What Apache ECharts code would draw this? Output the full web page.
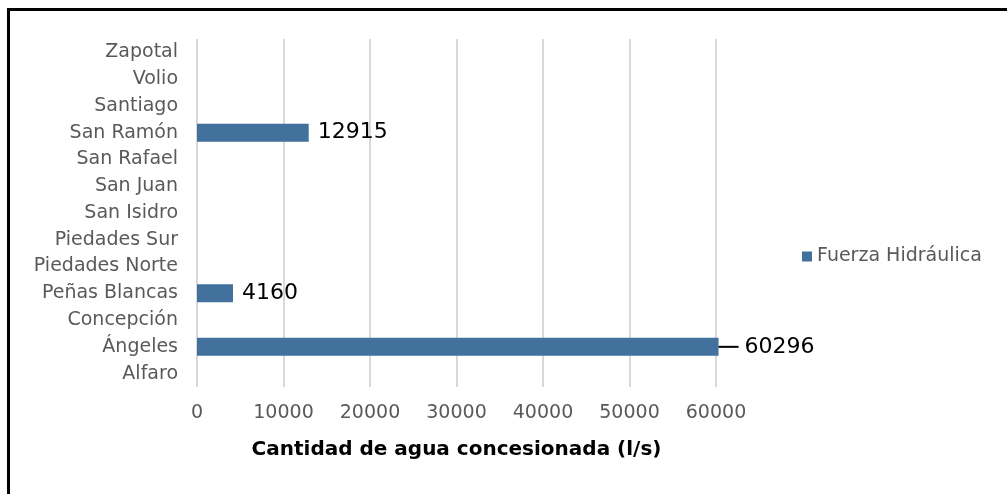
<!DOCTYPE html>
<html>
<head>
<meta charset="utf-8">
<script src="https://cdn.jsdelivr.net/npm/echarts@6/dist/echarts.min.js"></script>
<style>
  html, body { margin: 0; padding: 0; background: #fff; }
  #frame {
    position: absolute; left: 7px; top: 8px; right: 0; bottom: 0;
    border-top: 3px solid #000; border-left: 3px solid #000;
  }
  #chart { position: absolute; left: 0; top: 0; width: 1007px; height: 494px; }
</style>
</head>
<body>
<div id="frame"></div>
<div id="chart"></div>
<script>
const categories = ['Alfaro', 'Ángeles', 'Concepción', 'Peñas Blancas', 'Piedades Norte',
  'Piedades Sur', 'San Isidro', 'San Juan', 'San Rafael', 'San Ramón', 'Santiago', 'Volio', 'Zapotal'];
const fuerzaHidraulica = [null, 60296, null, 4160, null, null, null, null, null, 12915, null, null, null];
const xTicks = [0, 10000, 20000, 30000, 40000, 50000, 60000];
const seriesName = 'Fuerza Hidráulica';
const axisTitle = 'Cantidad de agua concesionada (l/s)';

const font = 'DejaVu Sans';
const gray = '#595959';

const chart = echarts.init(document.getElementById('chart'));

// the big bar has its label pushed out with a short leader line
const barData = fuerzaHidraulica.map((v) => {
  if (v === null) return v;
  if (v === Math.max(...fuerzaHidraulica)) {
    return {
      value: v,
      label: {
        distance: 0,
        formatter: '{l|}{v|{c}}',
      },
    };
  }
  return v;
});

chart.setOption({
  animation: false,
  grid: {
    left: 197,
    right: 291,
    top: 39,
    bottom: 107,
    containLabel: false,
  },
  legend: {
    data: [seriesName],
    left: 797,
    top: 242,
    orient: 'vertical',
    itemWidth: 10,
    itemHeight: 10,
    itemGap: 6,
    icon: 'rect',
    textStyle: { color: gray, fontFamily: font, fontSize: 19 },
  },
  xAxis: {
    type: 'value',
    min: xTicks[0],
    max: xTicks[xTicks.length - 1],
    interval: xTicks[1] - xTicks[0],
    axisLine: { show: false },
    axisTick: { show: false },
    axisLabel: {
      color: gray,
      fontFamily: font,
      fontSize: 19,
      margin: 17,
      formatter: (v) => String(v),
    },
    splitLine: {
      show: true,
      lineStyle: { color: '#d9d9d9', width: 2 },
    },
    name: axisTitle,
    nameLocation: 'middle',
    nameGap: 53,
    nameTextStyle: {
      color: '#000',
      fontFamily: font,
      fontSize: 20,
      fontWeight: 'bold',
    },
  },
  yAxis: {
    type: 'category',
    data: categories,
    axisLine: { show: false },
    axisTick: { show: false },
    axisLabel: {
      color: gray,
      fontFamily: font,
      fontSize: 19,
      margin: 19,
      interval: 0,
    },
  },
  series: [
    {
      name: seriesName,
      type: 'bar',
      data: barData,
      barWidth: 18,
      clip: false,
      itemStyle: { color: '#41719c' },
      label: {
        show: true,
        position: 'right',
        distance: 9,
        color: '#000',
        fontFamily: font,
        fontSize: 22,
        rich: {
          l: { width: 20, height: 2, backgroundColor: '#000' },
          v: { color: '#000', fontFamily: font, fontSize: 22, padding: [0, 0, 0, 6] },
        },
      },
    },
  ],
});
</script>
</body>
</html>
